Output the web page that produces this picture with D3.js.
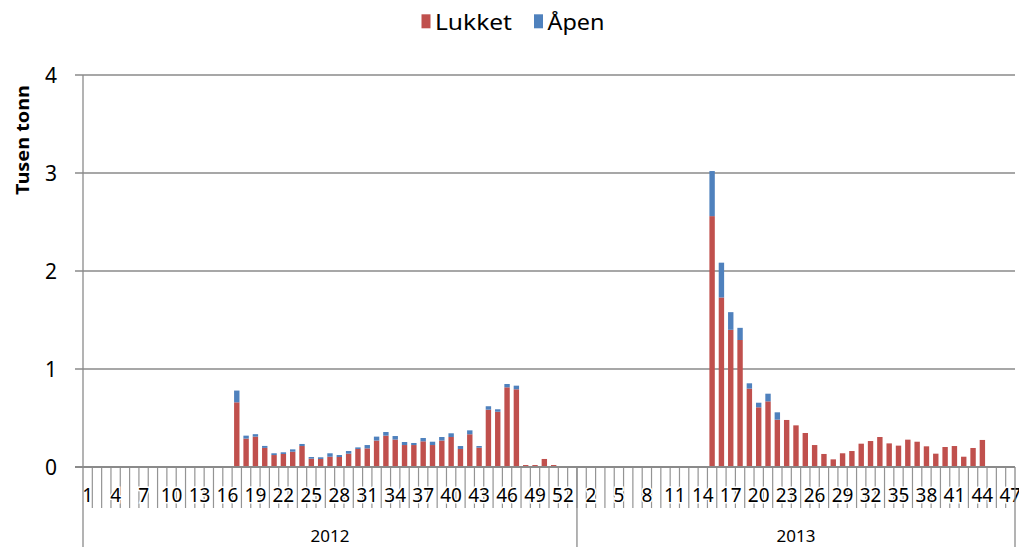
<!DOCTYPE html>
<html>
<head>
<meta charset="utf-8">
<script src="https://cdn.jsdelivr.net/npm/d3@7"></script>
<style>
  body { margin: 0; background: #fff; }
  svg { display: block; font-family: "Noto Sans", sans-serif; }
</style>
</head>
<body>
<svg id="chart" width="1019" height="547"></svg>
<script>
// uker per år (2012 har uke 53, 2013 går til uke 47)
var years = ['2012', '2013']
var weeksPerYear = [53, 47]
var seriesNames = ['Lukket', 'Åpen']
var seriesColors = ['#C0504D', '#4F81BD']
var yTicks = [0, 1, 2, 3, 4]

// tusen tonn, lukket
var lukket2012 = [
  0, 0, 0, 0, 0, 0, 0, 0, 0, 0, 0, 0, 0, 0, 0, 0,
  0.66, 0.29, 0.31, 0.195, 0.122, 0.133, 0.156, 0.214, 0.085, 0.082,
  0.105, 0.102, 0.136, 0.184, 0.19, 0.27, 0.32, 0.28, 0.224, 0.224,
  0.262, 0.224, 0.27, 0.306, 0.184, 0.334, 0.197, 0.585, 0.564, 0.813,
  0.793, 0.02, 0.02, 0.082, 0.02, 0, 0
]
var apen2012 = [
  0, 0, 0, 0, 0, 0, 0, 0, 0, 0, 0, 0, 0, 0, 0, 0,
  0.12, 0.03, 0.025, 0.02, 0.018, 0.017, 0.024, 0.021, 0.017, 0.017,
  0.035, 0.02, 0.027, 0.016, 0.034, 0.04, 0.037, 0.036, 0.031, 0.021,
  0.034, 0.034, 0.036, 0.038, 0.03, 0.04, 0.017, 0.035, 0.025, 0.034,
  0.037, 0, 0, 0, 0, 0, 0
]
var lukket2013 = [
  0, 0, 0, 0, 0, 0, 0, 0, 0, 0, 0, 0, 0, 0,
  2.56, 1.73, 1.40, 1.296, 0.80, 0.609, 0.67, 0.483, 0.48, 0.425,
  0.347, 0.224, 0.133, 0.078, 0.14, 0.163, 0.238, 0.265, 0.306, 0.241,
  0.218, 0.279, 0.258, 0.211, 0.136, 0.204, 0.214, 0.105, 0.194, 0.276,
  0, 0, 0
]
var apen2013 = [
  0, 0, 0, 0, 0, 0, 0, 0, 0, 0, 0, 0, 0, 0,
  0.46, 0.355, 0.18, 0.124, 0.054, 0.047, 0.078, 0.075, 0, 0,
  0, 0, 0, 0, 0, 0, 0, 0, 0, 0,
  0, 0, 0, 0, 0, 0, 0, 0, 0, 0,
  0, 0, 0
]

var lukket = [lukket2012, lukket2013]
var apen = [apen2012, apen2013]

var data = []
years.forEach(function(yr, yi){
  for (var w = 1; w <= weeksPerYear[yi]; w++){
    data.push({key: yr + '-' + w, year: yr, week: w, lukket: lukket[yi][w-1], apen: apen[yi][w-1]})
  }
})

var svg = d3.select('#chart')
var plotLeft = 83, plotRight = 1015, plotTop = 75, plotBottom = 467

var x = d3.scaleBand().domain(data.map(function(d){ return d.key })).range([plotLeft, plotRight])
var y = d3.scaleLinear().domain([0, 4]).range([plotBottom, plotTop])
var bw = 5.4

//////////
// GRID //
//////////

svg.selectAll('line.grid').data(yTicks.slice(1)).enter().append('line')
  .attr('x1', plotLeft - 8).attr('x2', plotRight)
  .attr('y1', d => y(d)).attr('y2', d => y(d))
  .attr('stroke', '#8a8a8a').attr('stroke-width', 1.3)

svg.selectAll('text.ytick').data(yTicks).enter().append('text')
  .attr('x', 57).attr('y', d => y(d) + 7.5)
  .attr('text-anchor', 'end')
  .attr('font-size', 21)
  .attr('fill', '#000')
  .text(d => d)

svg.append('text')
  .attr('transform', 'translate(29,140) rotate(-90)')
  .attr('text-anchor', 'middle')
  .attr('font-size', 18).attr('font-weight', 'bold')
  .attr('textLength', 110).attr('lengthAdjust', 'spacingAndGlyphs')
  .text('Tusen tonn')

//////////
// BARS //
//////////

var stack = d3.stack().keys(['lukket', 'apen'])(data)

svg.selectAll('g.series').data(stack).enter().append('g')
  .attr('fill', (d, i) => seriesColors[i])
  .selectAll('rect').data(d => d.filter(p => p[1] - p[0] > 0)).enter().append('rect')
  .attr('x', d => x(d.data.key) + (x.bandwidth() - bw) / 2)
  .attr('width', bw)
  .attr('y', d => y(d[1]))
  .attr('height', d => y(d[0]) - y(d[1]))

//////////
// AXIS //
//////////

// streker mellom hver uke
svg.selectAll('line.tick').data(data.slice(1)).enter().append('line')
  .attr('x1', d => x(d.key)).attr('x2', d => x(d.key))
  .attr('y1', plotBottom).attr('y2', 508)
  .attr('stroke', '#949494').attr('stroke-width', 1.2)

svg.selectAll('text.xtick').data(data.filter((d, i) => i % 3 == 0)).enter().append('text')
  .attr('x', d => x(d.key) + x.bandwidth() / 2)
  .attr('y', 502)
  .attr('text-anchor', 'middle')
  .attr('font-size', 19)
  .attr('stroke', '#fff').attr('stroke-width', 3).attr('paint-order', 'stroke')
  .attr('fill', '#000')
  .text(d => d.week)

// årsgrenser
var bounds = [plotLeft]
var acc = 0
weeksPerYear.forEach(function(n){ acc += n; bounds.push(x(data[acc - 1].key) + x.bandwidth()) })

svg.selectAll('line.yr').data(bounds.slice(1)).enter().append('line')
  .attr('x1', d => d).attr('x2', d => d)
  .attr('y1', plotBottom).attr('y2', 547)
  .attr('stroke', '#8a8a8a').attr('stroke-width', 1.3)

svg.selectAll('text.yr').data(years).enter().append('text')
  .attr('x', (d, i) => (bounds[i] + bounds[i+1]) / 2)
  .attr('y', 541.5)
  .attr('text-anchor', 'middle')
  .attr('font-size', 17)
  .text(d => d)

svg.append('line')
  .attr('x1', plotLeft).attr('x2', plotLeft).attr('y1', plotTop).attr('y2', 547)
  .attr('stroke', '#8a8a8a').attr('stroke-width', 1.3)

svg.append('line')
  .attr('x1', plotLeft - 8).attr('x2', plotRight).attr('y1', plotBottom).attr('y2', plotBottom)
  .attr('stroke', '#8a8a8a').attr('stroke-width', 2)

////////////
// LEGEND //
////////////

var legendX = [421.5, 534]
var legendW = [77, 57]
var lg = svg.selectAll('g.legend').data(seriesNames).enter().append('g')
  .attr('transform', (d, i) => 'translate(' + legendX[i] + ',0)')
lg.append('rect').attr('y', 14.3).attr('width', 9).attr('height', 14)
  .attr('fill', (d, i) => seriesColors[i])
lg.append('text').attr('x', 13.5).attr('y', 29.5)
  .attr('font-size', 21)
  .attr('textLength', (d, i) => legendW[i]).attr('lengthAdjust', 'spacingAndGlyphs')
  .text(d => d)
</script>
</body>
</html>
